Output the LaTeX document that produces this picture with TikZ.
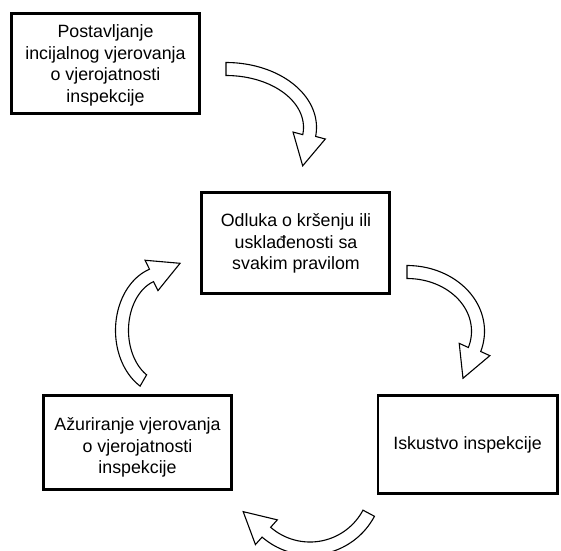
\documentclass[tikz,border=0pt]{standalone}
\usepackage{fontspec}
\setmainfont{Liberation Sans}
\usetikzlibrary{calc}
\newcommand{\arrhw}{16.5pt}
\newcommand{\arrhl}{31pt}
% #1 name, #2 cx, #3 cy, #4 rx, #5 ry, #6 start angle, #7 end angle, #8 half shaft width
\newcommand{\blockarc}[8]{%
  \coordinate (#1-e) at ({#2+#4*cos(#7)},{#3+#5*sin(#7)});
  \coordinate (#1-f) at ({#2+#4*cos(#7+1)},{#3+#5*sin(#7+1)});
  \draw[blockarrow] plot[domain=#6:#7,samples=60] ({#2+(#4+#8)*cos(\x)},{#3+(#5+#8)*sin(\x)})
    -- ($(#1-e)!\arrhw!90:(#1-f)$) -- ($(#1-e)!\arrhl!(#1-f)$) -- ($(#1-e)!\arrhw!-90:(#1-f)$)
    -- plot[domain=#7:#6,samples=60] ({#2+(#4-#8)*cos(\x)},{#3+(#5-#8)*sin(\x)}) -- cycle;
}
\tikzset{
  box/.style={draw=black, line width=2.8pt, fill=white, inner sep=0pt},
  boxtext/.style={align=center, font=\fontsize{17.8}{21.5}\selectfont, inner sep=0pt},
  blockarrow/.style={draw=black, fill=white, line width=1.1pt, line join=miter},
}
\begin{document}
\begin{tikzpicture}[x=1pt,y=-1pt]
\useasboundingbox (0,0) rectangle (561,550);
\clip (0,0) rectangle (561,550);
\fill[white] (0,0) rectangle (561,550);
% boxes
\node[box, minimum width=188.2pt, minimum height=100.2pt] (b1) at (105.5,63.5) {};
\node[box, minimum width=188.2pt, minimum height=101.2pt] (b2) at (295.5,243) {};
\node[box, minimum width=188.2pt, minimum height=94.2pt] (b3) at (137.5,442.5) {};
\node[box, minimum width=179.2pt, minimum height=98.2pt] (b4) at (467.5,444.5) {};
% texts
\node[boxtext] (t1) at (105.5,65.5) {Postavljanje\\incijalnog vjerovanja\\o vjerojatnosti\\inspekcije};
\node[boxtext] (t2) at (296,243.5) {Odluka o kršenju ili\\usklađenosti sa\\svakim pravilom};
\node[boxtext] (t3) at (137.5,447.5) {Ažuriranje vjerovanja\\o vjerojatnosti\\inspekcije};
\node[boxtext] (t4) at (467.5,444.5) {Iskustvo inspekcije};
% curved block arrows
\blockarc{a1}{226}{127.4}{84}{58.4}{-90}{8}{6.5}
\blockarc{a2}{407}{331.2}{71}{59.2}{-90}{18}{6.5}
\blockarc{a3}{310}{482}{66.5}{66.5}{28}{131}{6.5}
\blockarc{a4}{164.7}{330.4}{42.7}{57.8}{120}{252}{6.5}
\end{tikzpicture}
\end{document}
